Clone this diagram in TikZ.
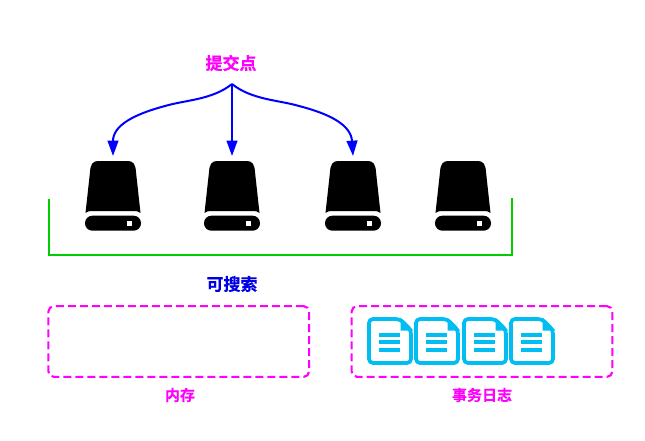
\documentclass[tikz,border=0pt]{standalone}
\usepackage{fontspec}
\setmainfont{Noto Sans CJK SC}[BoldFont={* Bold},BoldFeatures={FakeBold=0.5}]
\usetikzlibrary{arrows.meta}
\definecolor{mag}{HTML}{FF00FF}
\definecolor{docblue}{HTML}{00BEF2}
\definecolor{grn}{HTML}{00CC00}
\definecolor{blu}{HTML}{0000FF}
\tikzset{
  x=0.75pt,y=-0.75pt,
  lbl/.style={font=\bfseries\fontsize{12.75pt}{14pt}\selectfont,inner sep=0pt},
  sublbl/.style={font=\bfseries\fontsize{11.25pt}{13pt}\selectfont,inner sep=0pt,text=mag},
  commit/.style={draw=blu,line width=1.5pt,-{Triangle[length=11.5pt,width=8pt]},shorten >=0pt},
  dashbox/.style={draw=mag,line width=1.6pt,rounded corners=4pt,dash pattern=on 6pt off 3pt},
  pics/disk/.style={code={
    \fill[black] (-27.5,52) -- (-23,11) .. controls (-22.5,3) and (-20,0) .. (-15,0)
      -- (15,0) .. controls (20,0) and (22.5,3) .. (23,11) -- (27.5,52)
      .. controls (26,50.5) and (24,50) .. (20,50) -- (-20,50) .. controls (-24,50) and (-26,50.5) .. (-27.5,52) -- cycle;
    \fill[black,rounded corners=5.5pt] (-28,54.7) rectangle (28,69.7);
    \fill[white] (14,59.7) rectangle (19,64.7);
  }},
  pics/logdoc/.style={code={
    \draw[docblue,line width=2.8pt,line join=round,rounded corners=3pt]
      (0,0) -- (31,0) -- (42,11) -- (42,44) -- (0,44) -- cycle;
    \fill[docblue] (31.5,-1.5) -- (43.8,10.8) -- (43.8,11.5) -- (31.5,11.5) -- cycle;
    \fill[docblue] (10,14) rectangle (31,17.7);
    \fill[docblue] (10,21) rectangle (31,24.7);
    \fill[docblue] (10,29) rectangle (31,32.7);
  }}
}
\begin{document}
\begin{tikzpicture}
\useasboundingbox (0,0) rectangle (645,440);
\node[lbl,text=mag] (commitlbl) at (231,63) {提交点};
\coordinate (src) at (232,84);
\pic at (113,161) {disk};
\pic at (232,161) {disk};
\pic at (353,161) {disk};
\pic at (463,161) {disk};
\coordinate (t1) at (113,156);
\coordinate (t2) at (232,156);
\coordinate (t3) at (353,156);
\coordinate (m1) at (165,106);
\coordinate (m3) at (299,106);
\draw[commit] (src) .. controls (212,100) and (185,100) .. (m1) .. controls (135,114) and (113,125) .. (t1);
\draw[commit] (src) -- (t2);
\draw[commit] (src) .. controls (252,100) and (279,100) .. (m3) .. controls (330,114) and (351,125) .. (t3);
\coordinate (g1) at (49,199);
\coordinate (g2) at (512,198);
\draw[grn,line width=1.5pt] (g1) |- (g2 |- 0,255) -- (g2);
\node[lbl,text=blu!90!black] (searchlbl) at (232,284) {可搜索};
\node[dashbox,minimum width=195.5pt,minimum height=53pt,inner sep=0pt] (mem) at (178.75,341.5) {};
\node[dashbox,minimum width=195.5pt,minimum height=53pt,inner sep=0pt] (log) at (482,341.5) {};
\node[sublbl] (memlbl) at (180,395) {内存};
\node[sublbl] (loglbl) at (482,395) {事务日志};
\pic at (369,319) {logdoc};
\pic at (416,319) {logdoc};
\pic at (464,319) {logdoc};
\pic at (511,319) {logdoc};
\end{tikzpicture}
\end{document}
